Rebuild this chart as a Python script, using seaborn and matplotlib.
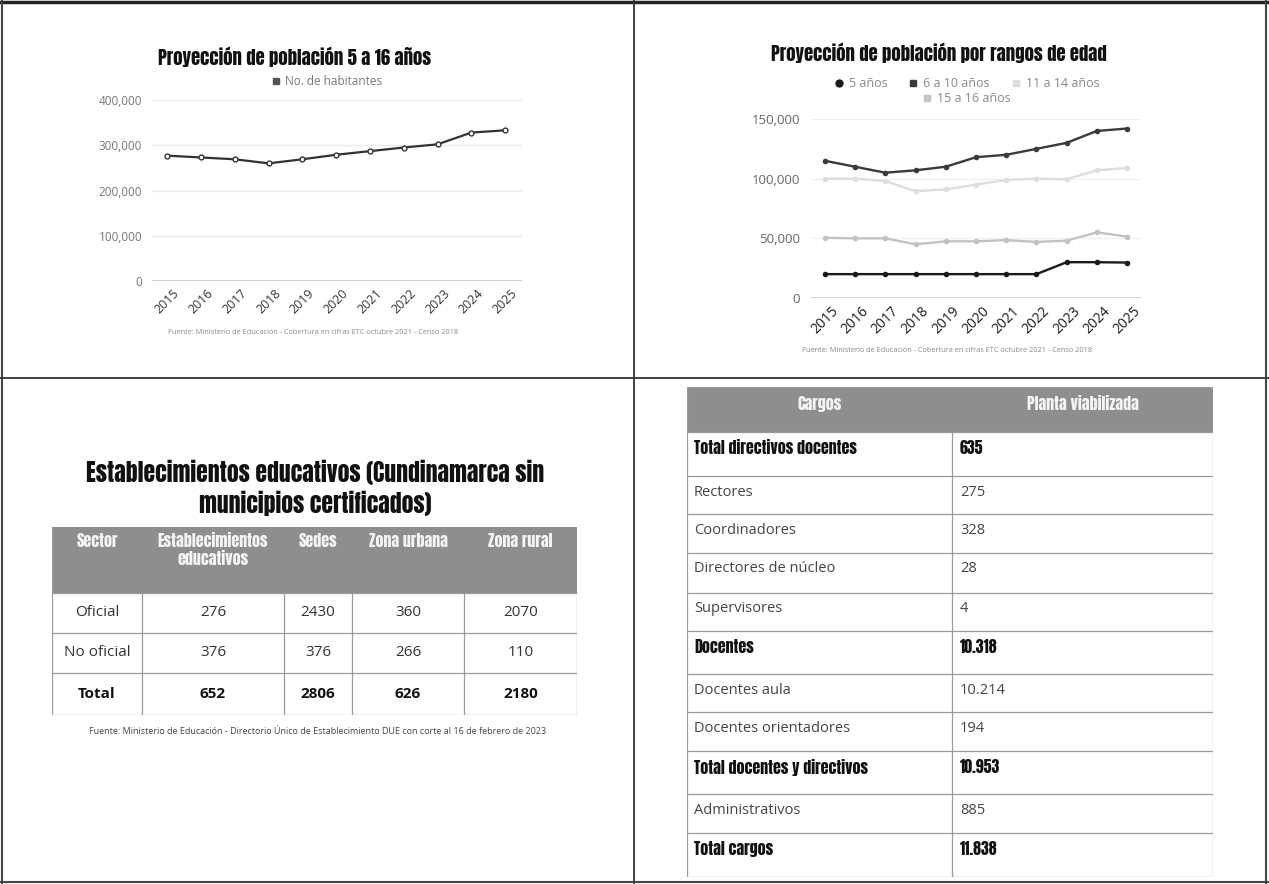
import numpy as np
import pandas as pd
import matplotlib
matplotlib.use("Agg")
import matplotlib.pyplot as plt
import seaborn as sns
from matplotlib import font_manager
from matplotlib.lines import Line2D
from matplotlib.patches import Rectangle
from matplotlib.ticker import FuncFormatter

W, H = 1269, 884

# ---- datos ----
anios = list(range(2015, 2026))
habitantes = [277000, 273000, 269000, 260000, 269000, 279000, 287000, 295000, 302000, 328000, 333000]

grupos = ["5 años", "6 a 10 años", "11 a 14 años", "15 a 16 años"]
pob_5 = [20000, 20000, 20000, 20000, 20000, 20000, 20000, 20000, 30000, 30000, 29700]
pob_6_10 = [115000, 110000, 105000, 107000, 110000, 118000, 120000, 125000, 130000, 140000, 142000]
pob_11_14 = [100000, 100000, 98000, 89500, 91000, 95000, 99000, 100000, 99500, 107000, 109000]
pob_15_16 = [50500, 50000, 50000, 45000, 47500, 47500, 48500, 47000, 48000, 55000, 51500]
colores = ["#1a1a1a", "#3a3a3a", "#dedede", "#c2c2c2"]

sectores = ["Oficial", "No oficial", "Total"]
cols_est = ["Sector", "Establecimientos\neducativos", "Sedes", "Zona urbana", "Zona rural"]
establecimientos = [276, 376, 652]
sedes = [2430, 376, 2806]
zona_urbana = [360, 266, 626]
zona_rural = [2070, 110, 2180]

cols_cargos = ["Cargos", "Planta viabilizada"]
cargos = ["Total directivos docentes", "Rectores", "Coordinadores", "Directores de núcleo",
          "Supervisores", "Docentes", "Docentes aula", "Docentes orientadores",
          "Total docentes y directivos", "Administrativos", "Total cargos"]
planta = ["635", "275", "328", "28", "4", "10.318", "10.214", "194", "10.953", "885", "11.838"]
negrita = [True, False, False, False, False, True, False, False, True, False, True]

fuente_pob = "Fuente: Ministerio de Educación - Cobertura en cifras ETC octubre 2021 - Censo 2018"
fuente_est = ("Fuente: Ministerio de Educación - Directorio Único de Establecimiento DUE "
              "con corte al 16 de febrero de 2023")

# ---- fuentes ----
sns.set_theme(style="white")
names = {f.name for f in font_manager.fontManager.ttflist}
COND = next((n for n in ["Anton", "Oswald", "Bebas Neue", "Roboto Condensed",
                         "Liberation Sans Narrow", "Open Sans Condensed"] if n in names), "DejaVu Sans")
plt.rcParams["font.family"] = ["Open Sans", "DejaVu Sans"]
TIT = dict(family=[COND, "DejaVu Sans"], weight="bold", stretch="condensed")

fig = plt.figure(figsize=(W / 100, H / 100), dpi=100)
fig.patch.set_facecolor("white")


def ax_px(l, t, w, h):
    return fig.add_axes([l / W, 1 - (t + h) / H, w / W, h / H])


def fig_text(x, y, s, **kw):
    return fig.text(x / W, 1 - y / H, s, ha=kw.pop("ha", "center"), va=kw.pop("va", "center"), **kw)


def fig_line(x0, y0, x1, y1, **kw):
    fig.add_artist(Line2D([x0 / W, x1 / W], [1 - y0 / H, 1 - y1 / H], transform=fig.transFigure, **kw))


fmt = FuncFormatter(lambda v, p: f"{int(v):,}")

# ---- grafico 1 ----
ax1 = ax_px(152, 100, 370, 181)
df1 = pd.DataFrame({"Año": anios, "No. de habitantes": habitantes})
sns.lineplot(data=df1, x="Año", y="No. de habitantes", ax=ax1, color="#333333", lw=1.6,
             marker="o", ms=3.5, mfc="white", mec="#333333", mew=1)
ax1.set_xlim(2014.55, 2025.5)
ax1.set_ylim(0, 400000)
ax1.set_yticks(range(0, 400001, 100000))
ax1.yaxis.set_major_formatter(fmt)
ax1.set_xticks(anios)
ax1.set_xticklabels([str(a) for a in anios], rotation=45, fontsize=9, color="#333333")
ax1.tick_params(axis="y", labelsize=8.5, labelcolor="#777777", length=0, pad=7)
ax1.tick_params(axis="x", length=0, pad=4)
ax1.grid(axis="y", color="#ebebeb", lw=1)
ax1.axhline(0, color="#cccccc", lw=1.2)
ax1.set_xlabel("")
ax1.set_ylabel("")
for s in ax1.spines.values():
    s.set_visible(False)
ax1.legend([Line2D([], [], marker="s", ls="", color="#555555", ms=4)], ["No. de habitantes"],
           loc="center", bbox_to_anchor=(0.47, 1.1), frameon=False, fontsize=8.5,
           labelcolor="#777777", handletextpad=0.3, handlelength=1)
fig_text(295, 57, "Proyección de población 5 a 16 años", fontsize=13.5, color="#111111", **TIT)
fig_text(313, 333, fuente_pob, fontsize=5.3, color="#888888")

# ---- grafico 2 ----
ax2 = ax_px(811, 119, 330, 179)
df2 = pd.DataFrame({"Año": anios * 4,
                    "Población": pob_5 + pob_6_10 + pob_11_14 + pob_15_16,
                    "Grupo": sum([[g] * len(anios) for g in grupos], [])})
sns.lineplot(data=df2, x="Año", y="Población", hue="Grupo", hue_order=grupos,
             palette=dict(zip(grupos, colores)), ax=ax2, lw=1.7, marker="o", ms=4,
             mew=0, legend=False)
ax2.set_xlim(2014.54, 2025.46)
ax2.set_ylim(0, 150000)
ax2.set_yticks(range(0, 150001, 50000))
ax2.yaxis.set_major_formatter(fmt)
ax2.set_xticks(anios)
ax2.set_xticklabels([str(a) for a in anios], rotation=45, fontsize=10, color="#1a1a1a")
ax2.tick_params(axis="y", labelsize=9.5, labelcolor="#666666", length=0, pad=8)
ax2.tick_params(axis="x", length=0, pad=4)
ax2.grid(axis="y", color="#f0f0f0", lw=1)
ax2.axhline(0, color="#cccccc", lw=1.2)
ax2.set_xlabel("")
ax2.set_ylabel("")
for s in ax2.spines.values():
    s.set_visible(False)
hnd = [Line2D([], [], marker=m, ls="", color=c, ms=5) for m, c in zip(["o", "s", "s", "s"], colores)]
leg1 = ax2.legend(hnd[:3], grupos[:3], ncol=3, loc="center", bbox_to_anchor=(0.47, 1.196),
                  frameon=False, fontsize=9, labelcolor="#888888", handletextpad=0.3,
                  handlelength=1, columnspacing=1.6)
ax2.add_artist(leg1)
ax2.legend(hnd[3:], grupos[3:], loc="center", bbox_to_anchor=(0.47, 1.112), frameon=False,
           fontsize=9, labelcolor="#888888", handletextpad=0.3, handlelength=1)
fig_text(939, 53, "Proyección de población por rangos de edad", fontsize=13.5, color="#111111", **TIT)
fig_text(947, 351, fuente_pob, fontsize=5.3, color="#888888")

# ---- tabla establecimientos ----
fig_text(315, 488, "Establecimientos educativos (Cundinamarca sin\nmunicipios certificados)",
         fontsize=17, color="#111111", linespacing=1.25, **TIT)
axt = ax_px(52, 527, 525, 188)
axt.set_xlim(0, 525)
axt.set_ylim(188, 0)
axt.axis("off")
col_x = [0, 90, 232, 300, 412, 525]
row_y = [0, 66, 106, 146, 188]
axt.add_patch(Rectangle((0, 0), 525, row_y[1], color="#8e8e8e", lw=0))
for j, c in enumerate(cols_est):
    axt.text((col_x[j] + col_x[j + 1]) / 2, 6, c, ha="center", va="top", fontsize=11.5,
             color="#f4f4f4", linespacing=1.15, **TIT)
filas = list(zip(sectores, establecimientos, sedes, zona_urbana, zona_rural))
for i, fila in enumerate(filas):
    yc = (row_y[i + 1] + row_y[i + 2]) / 2
    total = sectores[i] == "Total"
    for j, v in enumerate(fila):
        axt.text((col_x[j] + col_x[j + 1]) / 2, yc, str(v), ha="center", va="center",
                 fontsize=11, color="#111111" if total else "#333333",
                 weight="bold" if total else "normal")
for y in row_y[1:]:
    axt.plot([0, 525], [y, y], color="#9a9a9a", lw=0.9)
for x in col_x:
    axt.plot([x, x], [row_y[1] if 0 < x < 525 else 0, row_y[-1]], color="#9a9a9a", lw=0.9)
fig_text(318, 732, fuente_est, fontsize=6.5, color="#444444")

# ---- tabla cargos ----
axc = ax_px(687, 387, 526, 490)
axc.set_xlim(0, 526)
axc.set_ylim(490, 0)
axc.axis("off")
alto = [44, 38, 39, 40, 38, 43, 38, 39, 43, 39, 44]
bordes = np.concatenate([[0, 45], 45 + np.cumsum(alto)])
axc.add_patch(Rectangle((0, 0), 526, 45, color="#8e8e8e", lw=0))
for xc, c in zip([132.5, 395.5], cols_cargos):
    axc.text(xc, 17, c, ha="center", va="center", fontsize=11.5, color="#f4f4f4", **TIT)
for i, (cg, pv, b) in enumerate(zip(cargos, planta, negrita)):
    y = bordes[i + 1] + 16
    kw = dict(fontsize=11.5, color="#111111", **TIT) if b else dict(fontsize=10.5, color="#444444")
    axc.text(7, y, cg, ha="left", va="center", **kw)
    axc.text(273, y, pv, ha="left", va="center", **kw)
for y in bordes:
    axc.plot([0, 526], [y, y], color="#9a9a9a", lw=0.9)
for x in [0, 265, 526]:
    axc.plot([x, x], [45 if x == 265 else 0, 490], color="#9a9a9a", lw=0.9)

# ---- marco ----
fig_line(0, 2, W, 2, color="#222222", lw=2.5)
fig_line(2, 0, 2, H, color="#444444", lw=1.5)
fig_line(634, 0, 634, H, color="#333333", lw=1.3)
fig_line(0, 378, W, 378, color="#333333", lw=1.3)
fig_line(0, 882, W, 882, color="#444444", lw=1.5)
fig_line(1266, 0, 1266, H, color="#444444", lw=1.5)

fig.savefig("out.png", dpi=100, facecolor="white")
